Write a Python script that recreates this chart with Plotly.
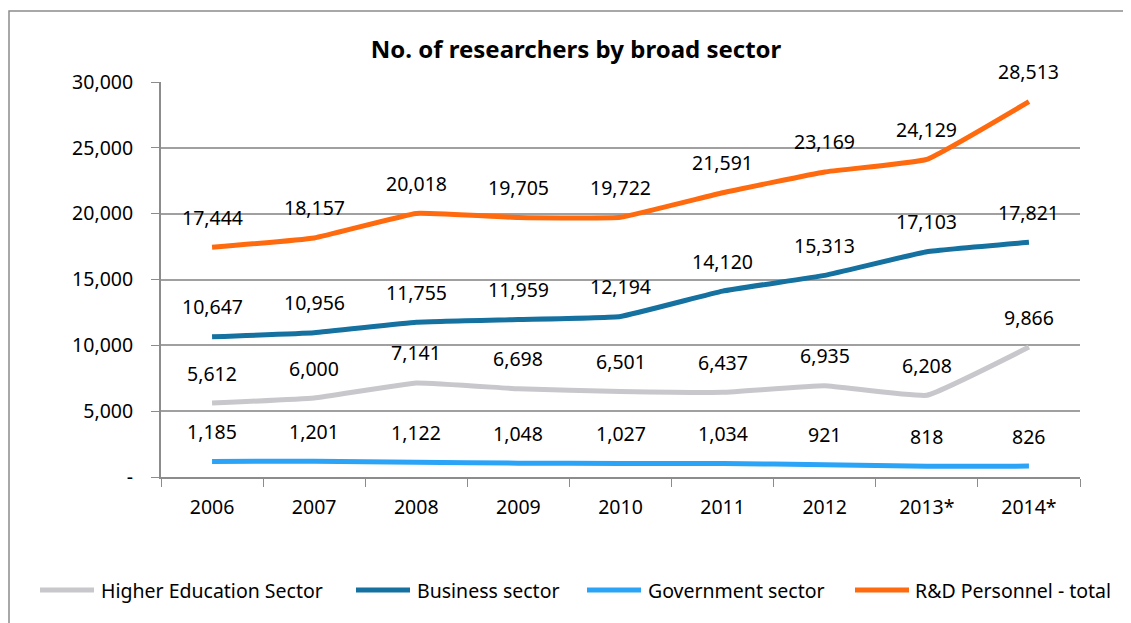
import plotly.graph_objects as go

years = ["2006", "2007", "2008", "2009", "2010", "2011", "2012", "2013*", "2014*"]
higher_ed = [5612, 6000, 7141, 6698, 6501, 6437, 6935, 6208, 9866]
business = [10647, 10956, 11755, 11959, 12194, 14120, 15313, 17103, 17821]
government = [1185, 1201, 1122, 1048, 1027, 1034, 921, 818, 826]
total = [17444, 18157, 20018, 19705, 19722, 21591, 23169, 24129, 28513]

series_names = ["Higher Education Sector", "Business sector", "Government sector", "R&D Personnel - total"]
series_values = [higher_ed, business, government, total]
series_colors = ["#C8C8CC", "#1571A0", "#2BA3F7", "#FF6A0F"]

FONT = "Noto Sans, Open Sans, sans-serif"
FS = 19.5

# page has an 8px body margin; figure coordinates are page - 8
W, H = 1123, 615
L, T = 153, 74
R = W - 1072
B = H - 469
pw, ph = W - L - R, H - T - B


def px_x(p):
    return (p - 8 - L) / pw


def px_y(p):
    return (T + ph - (p - 8)) / ph


fig = go.Figure()
annotations = []
shapes = []
for name, vals, color in zip(series_names, series_values, series_colors):
    fig.add_trace(go.Scatter(
        x=years, y=vals, name=name, mode="lines",
        line=dict(color=color, width=5, shape="spline", smoothing=0.3),
        hoverinfo="x+y+name",
    ))
    for i, v in enumerate(vals):
        annotations.append(dict(
            x=i, y=v, xref="x", yref="y", text=f"{v:,}", showarrow=False,
            yshift=30, font=dict(family=FONT, size=FS, color="#000000"),
        ))

# custom legend (page pixel positions)
legend_sym = [(40, 94), (356, 410), (587, 641), (855, 909)]
legend_txt = [99, 415, 646, 913]
LEG_Y = 590
for name, color, (s0, s1), tx in zip(series_names, series_colors, legend_sym, legend_txt):
    shapes.append(dict(type="line", xref="paper", yref="paper",
                       x0=px_x(s0), x1=px_x(s1), y0=px_y(LEG_Y), y1=px_y(LEG_Y),
                       line=dict(color=color, width=5)))
    annotations.append(dict(x=px_x(tx), y=px_y(LEG_Y), xref="paper", yref="paper",
                            text=name, showarrow=False, xanchor="left", yanchor="middle",
                            font=dict(family=FONT, size=FS, color="#000000")))

shapes.append(dict(
    type="rect", xref="paper", yref="paper",
    x0=px_x(9), x1=px_x(1145), y0=px_y(640), y1=px_y(11),
    line=dict(color="#8C8C8C", width=1.5), fillcolor="rgba(0,0,0,0)", layer="below",
))

fig.update_layout(
    width=W, height=H,
    margin=dict(l=L, r=R, t=T, b=B),
    paper_bgcolor="white", plot_bgcolor="white",
    font=dict(family=FONT, size=FS, color="#000000"),
    title=dict(text="<b>No. of researchers by broad sector</b>", x=568 / W, xanchor="center",
               y=1 - 42 / H, yanchor="middle", font=dict(family=FONT, size=24, color="#000000")),
    annotations=annotations,
    shapes=shapes,
    showlegend=False,
    xaxis=dict(
        type="category", tickson="boundaries", ticks="outside", ticklen=8,
        tickcolor="#8C8C8C", showline=True, linecolor="#8C8C8C", linewidth=2,
        showgrid=False, tickfont=dict(family=FONT, size=FS), ticklabelstandoff=12,
        range=[-0.5, len(years) - 0.5], automargin=False,
    ),
    yaxis=dict(
        range=[0, 30000], tickvals=[0, 5000, 10000, 15000, 20000, 25000, 30000],
        ticktext=["-", "5,000", "10,000", "15,000", "20,000", "25,000", "30,000"],
        ticks="outside", ticklen=8, tickcolor="#8C8C8C",
        showline=True, linecolor="#8C8C8C", linewidth=2,
        showgrid=True, gridcolor="#A0A0A0", gridwidth=1.5, zeroline=False,
        tickfont=dict(family=FONT, size=FS), ticklabelstandoff=14, automargin=False,
    ),
)

fig.write_html("out.html")
